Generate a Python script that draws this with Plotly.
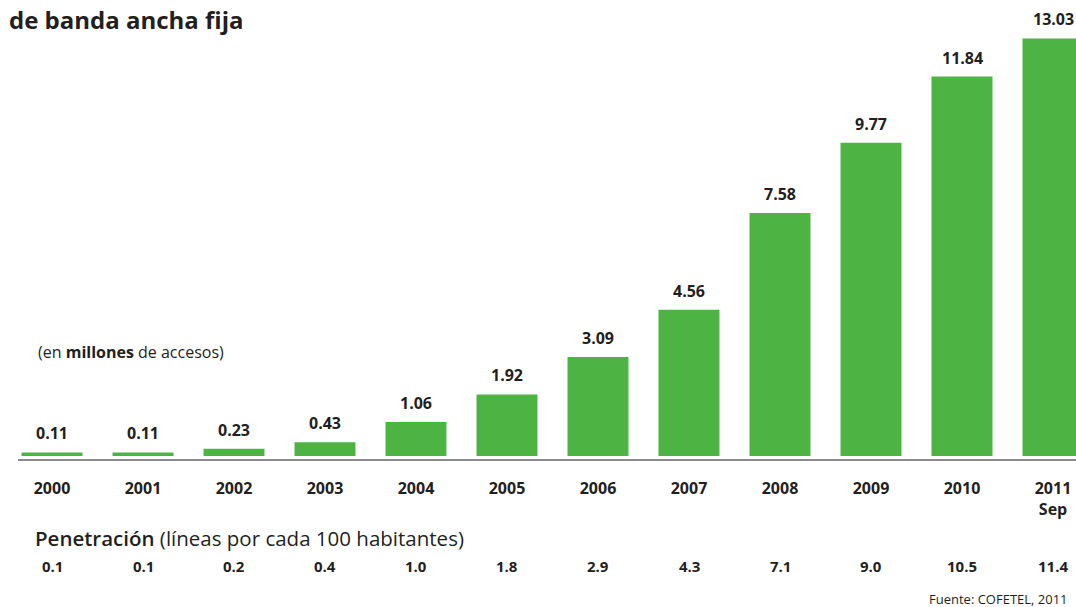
import plotly.graph_objects as go

# Fixed broadband accesses in Mexico (millions) and penetration per 100 inhabitants
years = ["2000", "2001", "2002", "2003", "2004", "2005", "2006", "2007", "2008", "2009", "2010", "2011"]
year_labels = ["2000", "2001", "2002", "2003", "2004", "2005", "2006", "2007", "2008", "2009", "2010", "2011<br>Sep"]
accesses = [0.11, 0.11, 0.23, 0.43, 1.06, 1.92, 3.09, 4.56, 7.58, 9.77, 11.84, 13.03]
penetration = ["0.1", "0.1", "0.2", "0.4", "1.0", "1.8", "2.9", "4.3", "7.1", "9.0", "10.5", "11.4"]

GREEN = "#4db443"
INK = "#231f20"
FONT = "Open Sans"

W, H = 1076, 607
ML, MR, MT, MB = 18, 0, 0, 148
plot_h = H - MT - MB
px_per_unit = 32.05
y_min = -3 / px_per_unit
y_max = y_min + plot_h / px_per_unit

positions = list(range(len(years)))

fig = go.Figure()
fig.add_trace(go.Bar(
    x=positions,
    y=accesses,
    marker=dict(color=GREEN, line=dict(width=0)),
    hovertext=years,
    hoverinfo="text+y",
))

annotations = []
# value labels above the bars
for i, v in zip(positions, accesses):
    annotations.append(dict(
        x=i, y=v, xref="x", yref="y", text=f"<b>{v:.2f}</b>", showarrow=False,
        yanchor="bottom", yshift=6,
        font=dict(family=FONT, size=16, color=INK),
    ))
# penetration row
for i, p in zip(positions, penetration):
    annotations.append(dict(
        x=i, y=0, xref="x", yref="paper", text=f"<b>{p}</b>", showarrow=False,
        yanchor="middle", yshift=-107,
        font=dict(family=FONT, size=15, color=INK),
    ))

annotations += [
    dict(x=0, y=1, xref="paper", yref="paper", xanchor="left", yanchor="middle",
         text="<b>de banda ancha fija</b>", showarrow=False,
         xshift=7 - ML, yshift=-19,
         font=dict(family=FONT, size=24, color=INK)),
    dict(x=0, y=0, xref="paper", yref="paper", xanchor="left", yanchor="middle",
         text="(en <b>millones</b> de accesos)", showarrow=False,
         xshift=36 - ML, yshift=459 - 352,
         font=dict(family=FONT, size=16, color=INK)),
    dict(x=0, y=0, xref="paper", yref="paper", xanchor="left", yanchor="middle",
         text="<span style='font-weight:600'>Penetración</span> (líneas por cada 100 habitantes)",
         showarrow=False, xshift=33 - ML, yshift=459 - 538,
         font=dict(family=FONT, size=20.5, color=INK)),
    dict(x=1, y=0, xref="paper", yref="paper", xanchor="right", yanchor="middle",
         text="Fuente: COFETEL, 2011", showarrow=False,
         xshift=-6, yshift=459 - 599,
         font=dict(family=FONT, size=13, color=INK)),
]

fig.update_layout(
    width=W, height=H,
    margin=dict(l=ML, r=MR, t=MT, b=MB, pad=0),
    paper_bgcolor="white", plot_bgcolor="white",
    bargap=0.33,
    showlegend=False,
    annotations=annotations,
    xaxis=dict(
        range=[(18 - 52) / 91, (1076 - 52) / 91],
        tickmode="array", tickvals=positions, ticktext=year_labels,
        showline=True, linecolor="#8c8c8c", linewidth=2,
        showgrid=False, zeroline=False, ticks="",
        ticklabelstandoff=14,
        tickfont=dict(family=FONT, size=16, color=INK, weight="bold"),
    ),
    yaxis=dict(
        range=[y_min, y_max], visible=False, showgrid=False, zeroline=False,
    ),
)

fig.write_html("out.html")
